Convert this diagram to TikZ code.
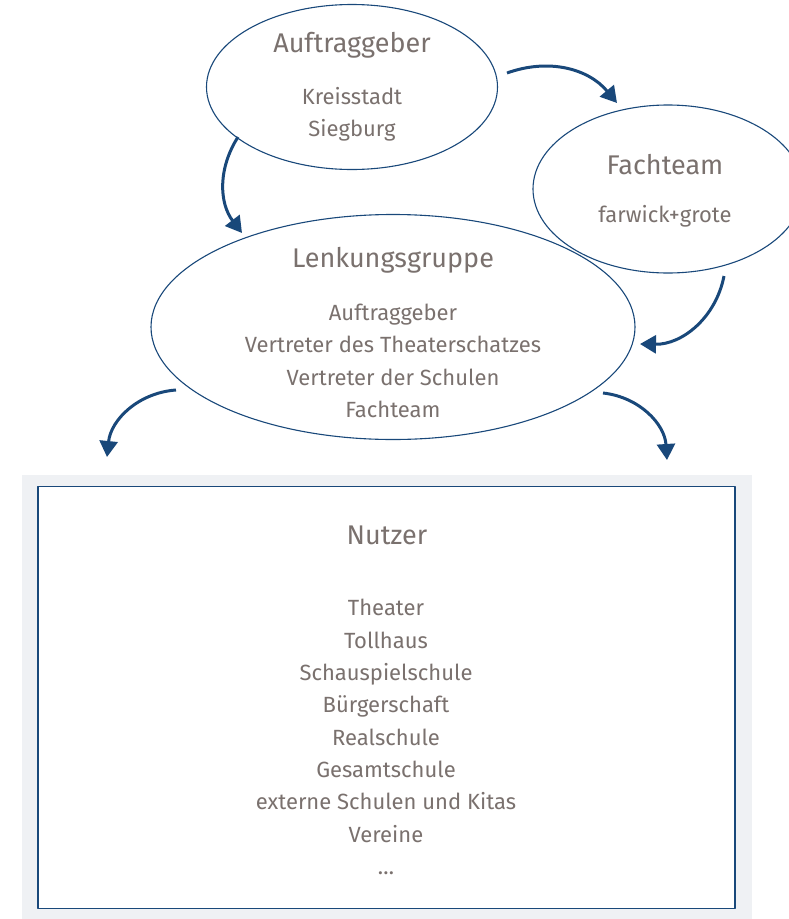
\documentclass[tikz,border=0pt]{standalone}
\usepackage{fontspec}
\setmainfont{Fira Sans}
\usetikzlibrary{shapes.geometric,arrows.meta}
\definecolor{linieblau}{RGB}{25,72,122}
\definecolor{textgrau}{RGB}{122,113,110}
\definecolor{hintergrund}{RGB}{239,241,244}
\begin{document}
\begin{tikzpicture}[x=1pt,y=-1pt,line join=round,
	oval/.style={draw=linieblau,line width=1.1pt,ellipse,inner sep=0pt},
	titel/.style={text=textgrau,font=\fontsize{27}{32}\selectfont},
	liste/.style={text=textgrau,align=center,font=\fontsize{22}{32.3}\selectfont},
	pfeil/.style={draw=linieblau,line width=3pt,-{Triangle[length=16pt,width=18pt]}}]
	\useasboundingbox (0,0) rectangle (788,919);
	% Ellipsen
	\node[oval,minimum width=291,minimum height=165] (auftrag) at (352,87) {};
	\node[oval,minimum width=270,minimum height=168] (fach) at (668,189) {};
	\node[oval,minimum width=484,minimum height=225] (lenkung) at (393,327) {};
	\node[titel] (auftragT) at (352,45) {Auftraggeber};
	\node[liste] (auftragL) at (352,114) {Kreisstadt\\Siegburg};
	\node[titel] (fachT) at (665,165) {Fachteam};
	\node[liste] (fachL) at (665,216) {farwick+grote};
	\node[titel] (lenkungT) at (393,260) {Lenkungsgruppe};
	\node[liste] (lenkungL) at (393,361) {Auftraggeber\\Vertreter des Theaterschatzes\\Vertreter der Schulen\\Fachteam};
	% Nutzer
	\fill[hintergrund] (22,475) rectangle (752,919);
	\node[draw=linieblau,line width=1.3pt,fill=white,minimum width=697,minimum height=422,inner sep=0pt] (nutzer) at (386.5,697.5) {};
	\node[titel] (nutzerT) at (387,535) {Nutzer};
	\node[liste] (nutzerL) at (386,737) {Theater\\Tollhaus\\Schauspielschule\\Bürgerschaft\\Realschule\\Gesamtschule\\externe Schulen und Kitas\\Vereine\\\dots};
	% Pfeile
	\coordinate (a1) at (507,73);  \coordinate (b1) at (617,103);
	\coordinate (a2) at (238,137); \coordinate (b2) at (242,233);
	\coordinate (a3) at (724,276); \coordinate (b3) at (640,344);
	\coordinate (a4) at (176,390); \coordinate (b4) at (107,457);
	\coordinate (a5) at (603,393); \coordinate (b5) at (667,460);
	\draw[pfeil] (a1) to[bend left=35] (b1);
	\draw[pfeil] (a2) to[bend right=35] (b2);
	\draw[pfeil] (a3) to[bend left=40] (b3);
	\draw[pfeil] (a4) to[bend right=40] (b4);
	\draw[pfeil] (a5) to[bend left=40] (b5);
\end{tikzpicture}
\end{document}
